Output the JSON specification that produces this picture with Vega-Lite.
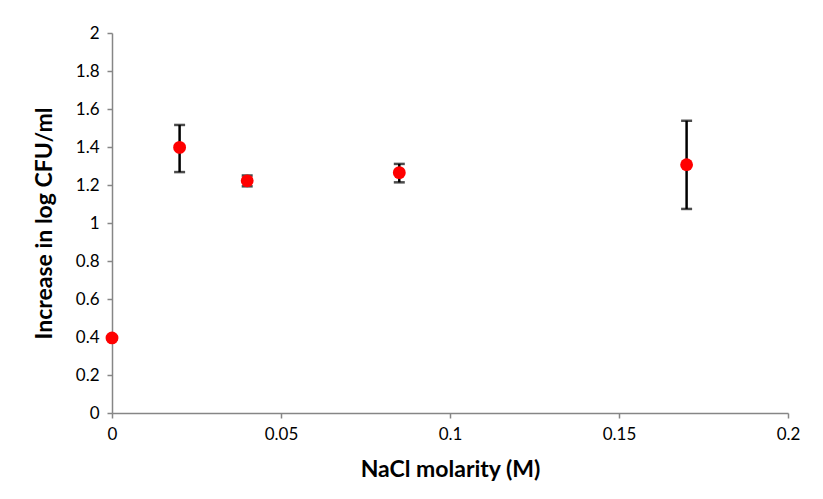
{
  "$schema": "https://vega.github.io/schema/vega-lite/v6.json",
  "width": 676,
  "height": 380,
  "autosize": {"type": "none"},
  "padding": {"left": 112, "top": 33, "right": 35, "bottom": 86},
  "background": "white",
  "config": {
    "view": {"stroke": null},
    "font": "Lato",
    "axis": {
      "domainColor": "#868686",
      "tickColor": "#868686",
      "domainWidth": 1.5,
      "tickWidth": 1.5,
      "tickSize": 5,
      "grid": false,
      "labelFont": "Lato",
      "labelFontSize": 17,
      "labelColor": "#000000",
      "labelOverlap": false,
      "labelFlush": false,
      "titleFont": "Lato",
      "titleFontSize": 23,
      "titleFontWeight": "bold",
      "titleColor": "#000000"
    }
  },
  "data": {
    "values": [
      {"molarity": 0, "increase": 0.395, "lo": 0.385, "hi": 0.405},
      {"molarity": 0.02, "increase": 1.398, "lo": 1.268, "hi": 1.516},
      {"molarity": 0.04, "increase": 1.222, "lo": 1.193, "hi": 1.25},
      {"molarity": 0.085, "increase": 1.265, "lo": 1.214, "hi": 1.311},
      {"molarity": 0.17, "increase": 1.307, "lo": 1.074, "hi": 1.538}
    ]
  },
  "encoding": {
    "x": {
      "field": "molarity",
      "type": "quantitative",
      "scale": {"domain": [0, 0.2], "nice": false, "zero": true},
      "axis": {
        "title": "NaCl molarity (M)",
        "values": [0, 0.05, 0.1, 0.15, 0.2],
        "format": "~g",
        "labelPadding": 8,
        "labelOverlap": false,
        "titlePadding": 16
      }
    },
    "y": {
      "field": "increase",
      "type": "quantitative",
      "scale": {"domain": [0, 2], "nice": false},
      "axis": {
        "title": "Increase in log CFU/ml",
        "values": [0, 0.2, 0.4, 0.6, 0.8, 1, 1.2, 1.4, 1.6, 1.8, 2],
        "format": "~g",
        "labelPadding": 8,
        "labelOverlap": false,
        "titlePadding": 19
      }
    }
  },
  "layer": [
    {
      "mark": {"type": "rule", "color": "black", "strokeWidth": 2.5},
      "encoding": {
        "y": {"field": "lo", "type": "quantitative"},
        "y2": {"field": "hi"}
      }
    },
    {
      "mark": {"type": "tick", "color": "black", "thickness": 2.5, "size": 11, "orient": "horizontal"},
      "encoding": {
        "y": {"field": "lo", "type": "quantitative"}
      }
    },
    {
      "mark": {"type": "tick", "color": "black", "thickness": 2.5, "size": 11, "orient": "horizontal"},
      "encoding": {
        "y": {"field": "hi", "type": "quantitative"}
      }
    },
    {
      "mark": {"type": "point", "filled": true, "shape": "circle", "size": 165, "color": "#ff0000", "opacity": 1, "clip": false},
      "encoding": {}
    }
  ]
}
